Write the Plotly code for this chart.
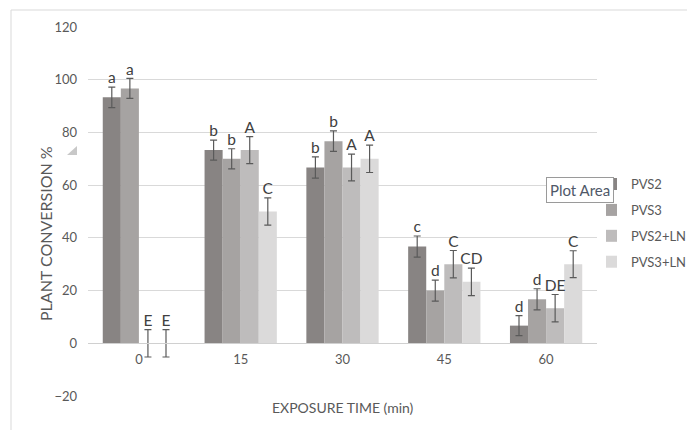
import plotly.graph_objects as go

categories = ["0", "15", "30", "45", "60"]
series_names = ["PVS2", "PVS3", "PVS2+LN", "PVS3+LN"]
pvs2 = [93.3, 73.3, 66.7, 36.7, 6.7]
pvs3 = [96.7, 70.0, 76.7, 20.0, 16.7]
pvs2_ln = [0, 73.3, 66.7, 30.0, 13.3]
pvs3_ln = [0, 50.0, 70.0, 23.3, 30.0]
err_pvs2 = [3.9, 3.8, 4.0, 4.0, 3.8]
err_pvs3 = [3.8, 3.8, 3.9, 4.0, 4.0]
err_pvs2_ln = [5.2, 5.1, 5.1, 5.2, 5.2]
err_pvs3_ln = [5.2, 5.2, 5.2, 5.2, 5.1]
lab_pvs2 = ["a", "b", "b", "c", "d"]
lab_pvs3 = ["a", "b", "b", "d", "d"]
lab_pvs2_ln = ["E", "A", "A", "C", "DE"]
lab_pvs3_ln = ["E", "C", "A", "CD", "C"]
y_ticks = [-20, 0, 20, 40, 60, 80, 100, 120]

values = [pvs2, pvs3, pvs2_ln, pvs3_ln]
errors = [err_pvs2, err_pvs3, err_pvs2_ln, err_pvs3_ln]
labels = [lab_pvs2, lab_pvs3, lab_pvs2_ln, lab_pvs3_ln]
colors = ["#888483", "#a6a3a2", "#bebcbc", "#dbdada"]

FONT = "Lato, Carlito, Calibri, sans-serif"
fig = go.Figure()
for i, name in enumerate(series_names):
    fig.add_trace(go.Bar(
        x=categories, y=values[i], name=name, legendgroup=name,
        offsetgroup=str(i),
        marker=dict(color=colors[i], line=dict(width=0)),
        error_y=dict(type="data", array=errors[i], visible=True,
                     color="#5a5a5a", thickness=1.2, width=3.5),
    ))

# letter labels above the error bars
for i, name in enumerate(series_names):
    fig.add_trace(go.Scatter(
        x=categories, y=[v + e for v, e in zip(values[i], errors[i])],
        mode="text", text=labels[i], textposition="top center",
        offsetgroup=str(i), showlegend=False, hoverinfo="skip",
        cliponaxis=False,
        textfont=dict(family=FONT, size=15.5, color="#404040"),
    ))

fig.update_layout(
    width=687, height=430,
    margin=dict(l=88, r=90, t=27, b=34, autoexpand=False),
    paper_bgcolor="white", plot_bgcolor="white",
    barmode="group", bargap=0.29, bargroupgap=0,
    scattermode="group", scattergap=0.29,
    font=dict(family=FONT, size=13, color="#595959"),
    showlegend=True,
    legend=dict(x=(606 - 88) / 509, y=0.615, xanchor="left", yanchor="top",
                indentation=-15,
                font=dict(family=FONT, size=13, color="#595959"),
                tracegroupgap=6, itemwidth=30, bgcolor="rgba(0,0,0,0)"),
    xaxis=dict(type="category", anchor="free", position=20 / 140,
               showline=True, linecolor="#d0d0d0", linewidth=1,
               showgrid=False, ticks="", ticklabelstandoff=4,
               tickfont=dict(family=FONT, size=13, color="#595959")),
    yaxis=dict(range=[-20, 120], tickvals=y_ticks, domain=[0, 1],
               showgrid=True, gridcolor="#d9d9d9", gridwidth=1,
               zeroline=False, showline=False, ticks="",
               ticklabelstandoff=10,
               tickfont=dict(family=FONT, size=13, color="#595959")),
)

fig.add_annotation(text="EXPOSURE TIME (min)", xref="paper", yref="paper",
                   x=0.5, y=-0.03, xanchor="center", yanchor="middle",
                   showarrow=False, font=dict(family=FONT, size=14, color="#595959"))
fig.add_annotation(text="PLANT CONVERSION %", xref="paper", yref="paper",
                   x=(45 - 88) / 509, y=(396 - 234) / 369, textangle=-90,
                   xanchor="center", yanchor="middle", showarrow=False,
                   font=dict(family=FONT, size=16, color="#595959"))
fig.add_annotation(text="Plot Area", xref="paper", yref="paper",
                   x=(580 - 88) / 509, y=(396 - 189.5) / 369,
                   xanchor="center", yanchor="middle", showarrow=False,
                   bgcolor="white", bordercolor="#9a9a9a", borderwidth=1, borderpad=3,
                   font=dict(family=FONT, size=15, color="#4f5868"))

# outer chart border (top & left visible)
fig.add_shape(type="line", xref="paper", yref="paper",
              x0=(11 - 88) / 509, x1=(700 - 88) / 509,
              y0=(396 - 10) / 369, y1=(396 - 10) / 369,
              line=dict(color="#d9d9d9", width=1))
fig.add_shape(type="line", xref="paper", yref="paper",
              x0=(11 - 88) / 509, x1=(11 - 88) / 509,
              y0=(396 - 10) / 369, y1=(396 - 440) / 369,
              line=dict(color="#d9d9d9", width=1))
# small selection handle triangle
tx0, tx1 = (67 - 88) / 509, (77 - 88) / 509
ty0, ty1 = (396 - 155) / 369, (396 - 146) / 369
fig.add_shape(type="path", xref="paper", yref="paper",
              path=f"M {tx0} {ty0} L {tx1} {ty0} L {tx1} {ty1} Z",
              fillcolor="#c8c8c8", line=dict(width=0))

fig.write_html("out.html")
